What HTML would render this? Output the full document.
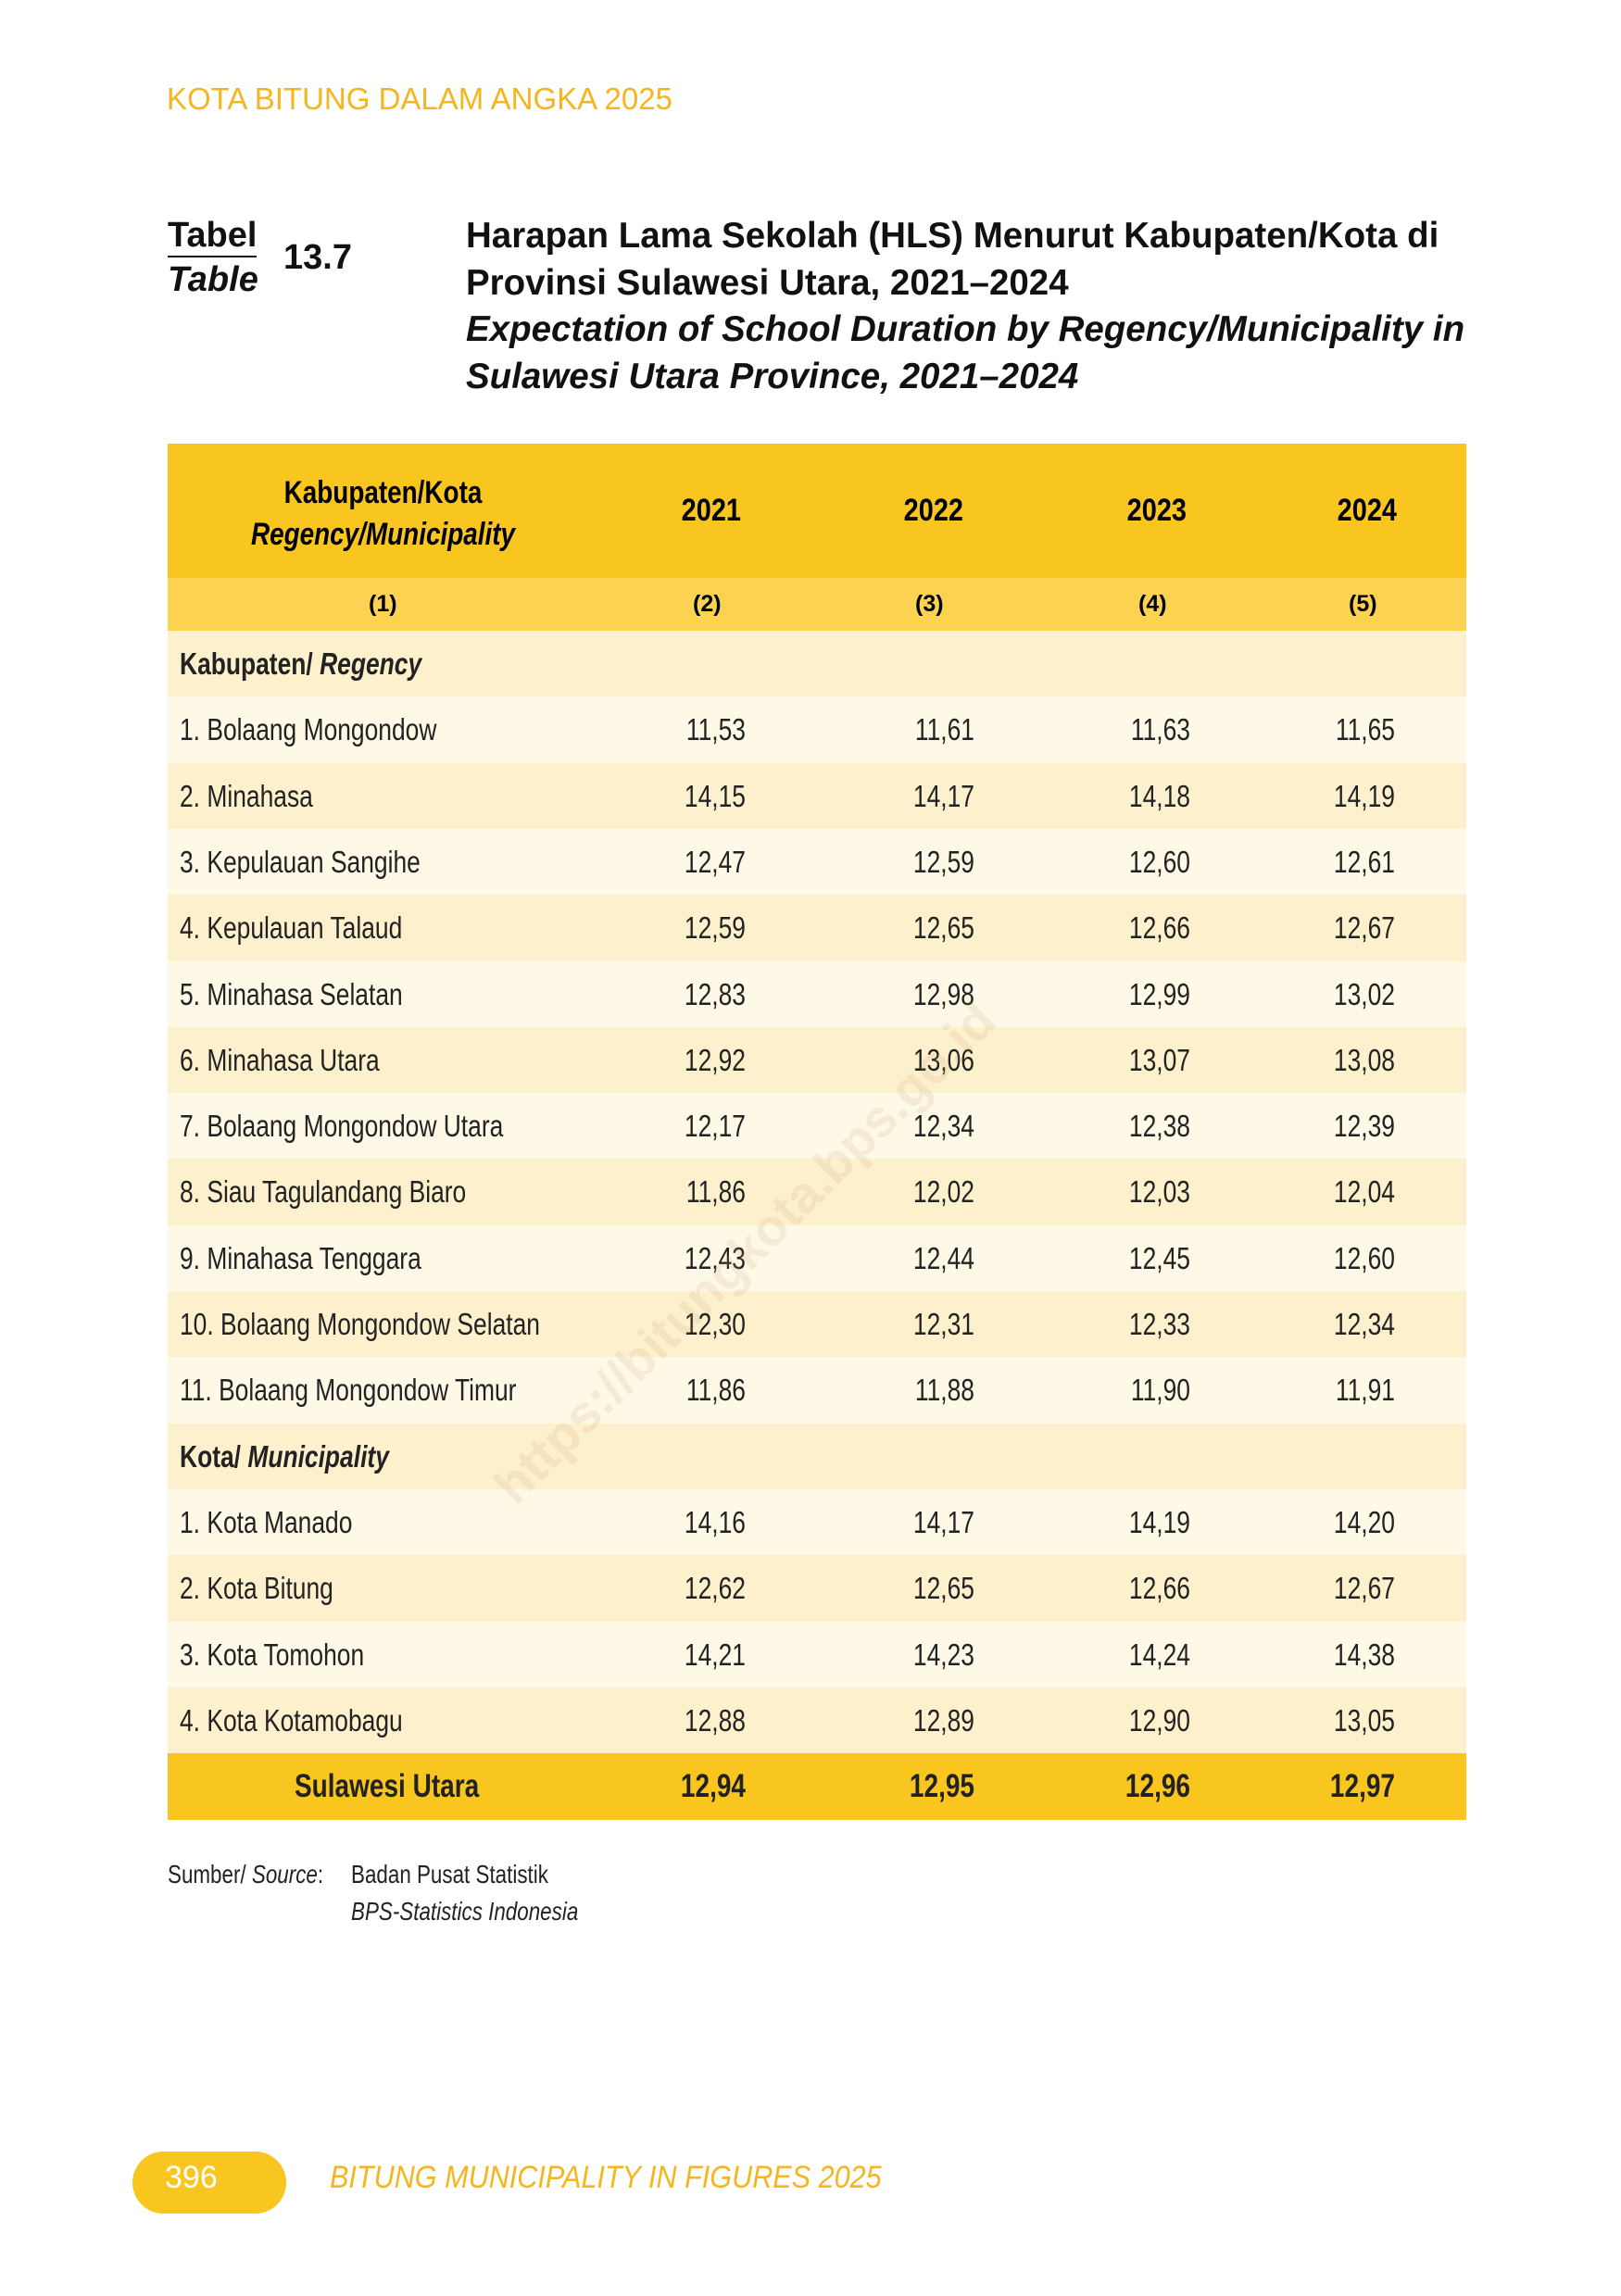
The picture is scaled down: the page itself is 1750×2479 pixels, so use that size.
<!DOCTYPE html>
<html><head><meta charset="utf-8"><style>
body{margin:0;width:1750px;height:2479px;background:#fff;position:relative;font-family:"Liberation Sans",sans-serif;overflow:hidden}
.a{position:absolute;white-space:nowrap}
.hd{left:180px;top:88px;font-size:33px;color:#F5B51E}
.tt{font-weight:bold;font-size:38px;color:#111}
.r{position:absolute;left:181px;width:1402px;height:72px}
.o{background:#FEF8E6}.e{background:#FDF0CC}.t{background:#F9C51F}
.c{position:absolute;top:0;line-height:71px;font-size:33px;color:#222;white-space:nowrap}
.l{left:13px;transform:scaleX(0.8);transform-origin:left center}
.v{transform:scaleX(0.8);transform-origin:right center;text-align:right;width:200px}
.v1{left:424px}.v2{left:671px}.v3{left:904px}.v4{left:1125px}
.b{font-weight:bold}
</style></head><body>
<div class="a hd">KOTA BITUNG DALAM ANGKA 2025</div>
<div class="a tt" style="left:181px;top:232px;border-bottom:2px solid #111;line-height:44px">Tabel</div>
<div class="a tt" style="left:181px;top:280px;font-style:italic;line-height:44px">Table</div>
<div class="a tt" style="left:306px;top:256px;line-height:44px">13.7</div>
<div class="a tt" style="left:503px;top:230px;line-height:50.5px;font-size:38.5px;letter-spacing:0px">Harapan Lama Sekolah (HLS) Menurut Kabupaten/Kota di<br>Provinsi Sulawesi Utara, 2021–2024<br><i>Expectation of School Duration by Regency/Municipality in<br>Sulawesi Utara Province, 2021–2024</i></div>

<div class="r t" style="top:479px;height:145px"></div>
<div class="r" style="top:624px;height:57px;background:#FBD350"></div>
<div class="a b" style="left:181px;width:465px;top:510px;text-align:center;font-size:34px;line-height:45px;transform:scaleX(0.82)">Kabupaten/Kota<br><i>Regency/Municipality</i></div>
<div class="a b" style="left:730px;top:532px;font-size:34px;transform:scaleX(0.85)">2021</div>
<div class="a b" style="left:970px;top:532px;font-size:34px;transform:scaleX(0.85)">2022</div>
<div class="a b" style="left:1211px;top:532px;font-size:34px;transform:scaleX(0.85)">2023</div>
<div class="a b" style="left:1438px;top:532px;font-size:34px;transform:scaleX(0.85)">2024</div>
<div class="a b" style="left:398px;top:638px;font-size:25px">(1)</div>
<div class="a b" style="left:748px;top:638px;font-size:25px">(2)</div>
<div class="a b" style="left:988px;top:638px;font-size:25px">(3)</div>
<div class="a b" style="left:1229px;top:638px;font-size:25px">(4)</div>
<div class="a b" style="left:1456px;top:638px;font-size:25px">(5)</div>

<div class="r e" style="top:681px"><div class="c l b">Kabupaten/ <i>Regency</i></div></div>
<div class="r o" style="top:752.3px"><div class="c l">1. Bolaang Mongondow</div><div class="c v v1">11,53</div><div class="c v v2">11,61</div><div class="c v v3">11,63</div><div class="c v v4">11,65</div></div>
<div class="r e" style="top:823.6px"><div class="c l">2. Minahasa</div><div class="c v v1">14,15</div><div class="c v v2">14,17</div><div class="c v v3">14,18</div><div class="c v v4">14,19</div></div>
<div class="r o" style="top:894.9px"><div class="c l">3. Kepulauan Sangihe</div><div class="c v v1">12,47</div><div class="c v v2">12,59</div><div class="c v v3">12,60</div><div class="c v v4">12,61</div></div>
<div class="r e" style="top:966.2px"><div class="c l">4. Kepulauan Talaud</div><div class="c v v1">12,59</div><div class="c v v2">12,65</div><div class="c v v3">12,66</div><div class="c v v4">12,67</div></div>
<div class="r o" style="top:1037.5px"><div class="c l">5. Minahasa Selatan</div><div class="c v v1">12,83</div><div class="c v v2">12,98</div><div class="c v v3">12,99</div><div class="c v v4">13,02</div></div>
<div class="r e" style="top:1108.8px"><div class="c l">6. Minahasa Utara</div><div class="c v v1">12,92</div><div class="c v v2">13,06</div><div class="c v v3">13,07</div><div class="c v v4">13,08</div></div>
<div class="r o" style="top:1180.1px"><div class="c l">7. Bolaang Mongondow Utara</div><div class="c v v1">12,17</div><div class="c v v2">12,34</div><div class="c v v3">12,38</div><div class="c v v4">12,39</div></div>
<div class="r e" style="top:1251.4px"><div class="c l">8. Siau Tagulandang Biaro</div><div class="c v v1">11,86</div><div class="c v v2">12,02</div><div class="c v v3">12,03</div><div class="c v v4">12,04</div></div>
<div class="r o" style="top:1322.7px"><div class="c l">9. Minahasa Tenggara</div><div class="c v v1">12,43</div><div class="c v v2">12,44</div><div class="c v v3">12,45</div><div class="c v v4">12,60</div></div>
<div class="r e" style="top:1394px"><div class="c l">10. Bolaang Mongondow Selatan</div><div class="c v v1">12,30</div><div class="c v v2">12,31</div><div class="c v v3">12,33</div><div class="c v v4">12,34</div></div>
<div class="r o" style="top:1465.3px"><div class="c l">11. Bolaang Mongondow Timur</div><div class="c v v1">11,86</div><div class="c v v2">11,88</div><div class="c v v3">11,90</div><div class="c v v4">11,91</div></div>
<div class="r e" style="top:1536.6px"><div class="c l b">Kota/ <i>Municipality</i></div></div>
<div class="r o" style="top:1607.9px"><div class="c l">1. Kota Manado</div><div class="c v v1">14,16</div><div class="c v v2">14,17</div><div class="c v v3">14,19</div><div class="c v v4">14,20</div></div>
<div class="r e" style="top:1679.2px"><div class="c l">2. Kota Bitung</div><div class="c v v1">12,62</div><div class="c v v2">12,65</div><div class="c v v3">12,66</div><div class="c v v4">12,67</div></div>
<div class="r o" style="top:1750.5px"><div class="c l">3. Kota Tomohon</div><div class="c v v1">14,21</div><div class="c v v2">14,23</div><div class="c v v3">14,24</div><div class="c v v4">14,38</div></div>
<div class="r e" style="top:1821.8px"><div class="c l">4. Kota Kotamobagu</div><div class="c v v1">12,88</div><div class="c v v2">12,89</div><div class="c v v3">12,90</div><div class="c v v4">13,05</div></div>
<div class="r t" style="top:1893.1px"><div class="c l b" style="left:137px;font-size:35px">Sulawesi Utara</div><div class="c v v1 b" style="font-size:35px">12,94</div><div class="c v v2 b" style="font-size:35px">12,95</div><div class="c v v3 b" style="font-size:35px">12,96</div><div class="c v v4 b" style="font-size:35px">12,97</div></div>

<div class="a" style="left:520px;top:1590px;font-weight:bold;font-size:56px;color:rgba(200,160,120,0.16);transform:rotate(-45deg);transform-origin:left top">https://bitungkota.bps.go.id</div>
<div class="a" style="left:181px;top:2008px;font-size:28px;color:#222;transform:scaleX(0.8);transform-origin:left">Sumber/ <i>Source</i>:</div>
<div class="a" style="left:379px;top:2008px;font-size:28px;color:#222;transform:scaleX(0.8);transform-origin:left">Badan Pusat Statistik</div>
<div class="a" style="left:379px;top:2048px;font-size:28px;color:#222;font-style:italic;transform:scaleX(0.8);transform-origin:left">BPS-Statistics Indonesia</div>
<div class="a" style="left:143px;top:2323px;width:166px;height:67px;background:#F9C51F;border-radius:34px"></div>
<div class="a" style="left:178px;top:2332px;font-size:34px;color:#fff">396</div>
<div class="a" style="left:356px;top:2332px;font-size:34px;color:#F5B51E;font-style:italic;transform:scaleX(0.9);transform-origin:left">BITUNG MUNICIPALITY IN FIGURES 2025</div>
</body></html>
